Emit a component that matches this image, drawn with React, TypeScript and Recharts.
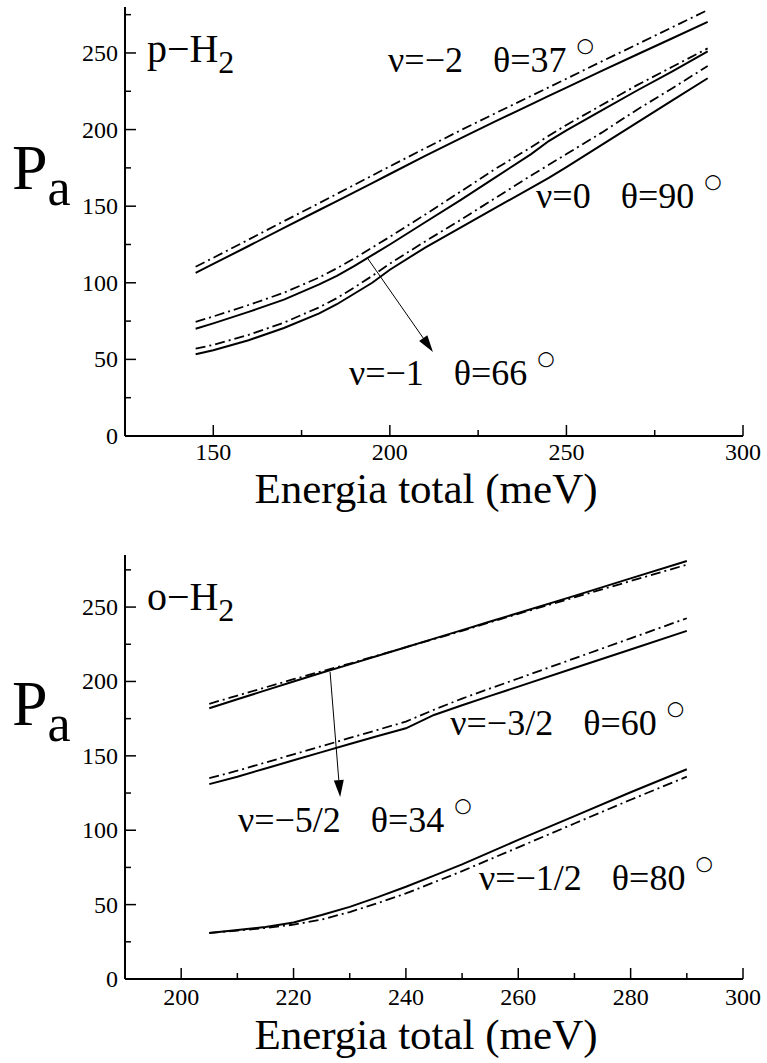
import React from 'react';
import { LineChart, Line, XAxis, YAxis, ReferenceDot, ReferenceLine, Label } from 'recharts';

const FONT = "'Liberation Serif', 'Times New Roman', 'DejaVu Serif', serif";
const TXT = { fontFamily: FONT };

// ---------- Top panel: p-H2 ----------
const pEnergy = [145, 150, 160, 170, 180, 185, 190, 195, 200, 210, 220, 230, 240, 245, 250, 260, 270, 280, 290];
const pNuM2Solid = [106.5, 112.3, 124, 135.8, 147.5, 153.3, 159.2, 165, 171, 182.8, 194.3, 205.5, 216.5, 222, 227.4, 238.3, 249, 259.6, 270.3];
const pNuM2Dash = [110.5, 116.3, 128.2, 140.2, 152, 158, 164, 170, 176, 187.8, 199.5, 210.8, 222, 227.6, 233.2, 244.5, 255.6, 266.8, 278];
const pNuM1Solid = [70, 73.5, 81, 89, 99, 104.5, 111, 118, 125, 139.5, 154, 169, 184, 192.5, 199.5, 212.5, 225.5, 238, 251];
const pNuM1Dash = [74.5, 78, 85.5, 93.5, 103.5, 109.5, 116, 123, 130, 144.5, 159.5, 174.5, 188.5, 196, 203, 216, 229, 241, 253];
const pNu0Solid = [53.3, 56, 62.5, 70.5, 80, 86, 93, 100, 108.5, 123, 136, 149, 162, 168.5, 175.5, 190, 204.5, 219, 233.5];
const pNu0Dash = [57, 59.5, 66, 74, 84, 90, 97, 104.5, 112.5, 127, 141, 155.5, 170, 177, 184, 198, 213, 227, 241.5];
const pXMajor = [150, 200, 250, 300];
const pXMinor = [175, 225, 275];
const pXDomain = [125, 300];
const pYDomain = [0, 280];

// ---------- Bottom panel: o-H2 ----------
const oEnergy = [205, 210, 215, 220, 225, 230, 235, 240, 245, 250, 255, 260, 270, 280, 290];
const oNuM52Solid = [182, 188, 194, 200, 205.8, 211.5, 217.3, 223, 228.8, 234.5, 240.3, 246, 257.5, 269.3, 281];
const oNuM52Dash = [185, 190.5, 196, 201.5, 206.8, 212, 217.5, 223, 228.5, 234, 239.8, 245.5, 256.5, 267.5, 278.5];
const oNuM32Solid = [131, 136, 141.5, 147, 152.5, 158, 163.3, 168.5, 177.5, 184, 190.3, 196.5, 209, 221.5, 234];
const oNuM32Dash = [135, 140, 145.5, 151, 156.5, 162, 167.5, 173, 181, 188.5, 195.3, 202, 215.5, 229, 242.5];
const oNuM12Solid = [31, 33, 35, 38, 43, 48.5, 55, 62, 69.5, 77, 85.3, 93.5, 109.5, 125.5, 141];
const oNuM12Dash = [31, 32.5, 34.3, 36.5, 40, 45, 51, 57.5, 65, 72.5, 80.5, 88.5, 104.5, 120.5, 136];
const oXMajor = [200, 220, 240, 260, 280, 300];
const oXMinor = [210, 230, 250, 270, 290];
const oXDomain = [190, 300];
const oYDomain = [0, 285];

const yMajor = [0, 50, 100, 150, 200, 250];
const yMinor = [25, 75, 125, 175, 225, 275];

const pData = pEnergy.map((e, i) => ({
  e,
  aS: pNuM2Solid[i], aD: pNuM2Dash[i],
  bS: pNuM1Solid[i], bD: pNuM1Dash[i],
  cS: pNu0Solid[i], cD: pNu0Dash[i],
}));
const oData = oEnergy.map((e, i) => ({
  e,
  aS: oNuM52Solid[i], aD: oNuM52Dash[i],
  bS: oNuM32Solid[i], bD: oNuM32Dash[i],
  cS: oNuM12Solid[i], cD: oNuM12Dash[i],
}));

const DASH = '10 4 2 4';

function makeTick(orient: string, majors: number[], showLabel: boolean, labelDy = 24) {
  return (props: any) => {
    const { x, y, payload } = props;
    const v = payload.value;
    const major = majors.includes(v);
    const len = major ? 11 : 6;
    let x2 = x, y2 = y;
    if (orient === 'bottom') y2 = y - len;
    if (orient === 'top') y2 = y + len;
    if (orient === 'left') x2 = x + len;
    if (orient === 'right') x2 = x - len;
    let label = null;
    if (showLabel && major) {
      if (orient === 'bottom') {
        label = (
          <text x={x} y={y + labelDy} textAnchor="middle" fontSize={24} style={TXT} fill="#000">{v}</text>
        );
      } else if (orient === 'left') {
        label = (
          <text x={x - 7} y={y + 8} textAnchor="end" fontSize={24} style={TXT} fill="#000">{v}</text>
        );
      }
    }
    return (
      <g>
        <line x1={x} y1={y} x2={x2} y2={y2} stroke="#000" strokeWidth={1.5} />
        {label}
      </g>
    );
  };
}

function Annot({ cx, cy, nu, theta, size = 36 }: any) {
  return (
    <text x={cx} y={cy} fontSize={size} style={TXT} fill="#000">
      <tspan>{'ν=' + nu}</tspan>
      <tspan dx={30}>{'θ=' + theta}</tspan>
      <tspan dx={10} dy={-20} fontSize={20} style={{ fontFamily: "'DejaVu Sans', sans-serif" }}>○</tspan>
    </text>
  );
}

function Species({ cx, cy, letter }: any) {
  return (
    <text x={cx} y={cy} fontSize={40} style={TXT} fill="#000">
      <tspan>{letter + '−H'}</tspan>
      <tspan dy={11} fontSize={32}>2</tspan>
    </text>
  );
}

function Arrow(props: any) {
  const { x1, y1, x2, y2 } = props;
  const dx = x2 - x1, dy = y2 - y1;
  const L = Math.sqrt(dx * dx + dy * dy) || 1;
  const ux = dx / L, uy = dy / L;
  const hl = 17, hw = 5;
  const bx = x2 - ux * hl, by = y2 - uy * hl;
  const pts = `${x2},${y2} ${bx - uy * hw},${by + ux * hw} ${bx + uy * hw},${by - ux * hw}`;
  return (
    <g>
      <line x1={x1} y1={y1} x2={bx} y2={by} stroke="#000" strokeWidth={1} />
      <polygon points={pts} fill="#000" />
    </g>
  );
}

function Panel({ data, height, marginTop, xDomain, yDomain, xMajor, xMinor, letter, speciesPos, annots, arrow, pDy, titleDy, xLabelDy }: any) {
  const xTicks = [...xMajor, ...xMinor].sort((a: number, b: number) => a - b);
  const yTicks = [...yMajor, ...yMinor].sort((a, b) => a - b);
  const lines = [
    ['aS', false], ['aD', true], ['bS', false], ['bD', true], ['cS', false], ['cD', true],
  ];
  return (
    <LineChart width={767} height={height} data={data} margin={{ top: marginTop, right: 24, bottom: 24, left: 0 }} style={TXT}>
      <XAxis dataKey="e" type="number" domain={xDomain} allowDataOverflow ticks={xTicks} interval={0}
        tickSize={0} tickMargin={0} height={60} axisLine={{ stroke: '#000', strokeWidth: 2 }}
        tick={makeTick('bottom', xMajor, true, xLabelDy)} tickLine={false}>
        <Label content={(p: any) => {
          const vb = p.viewBox;
          return (
            <text x={vb.x + vb.width / 2 - 8} y={vb.y + titleDy} textAnchor="middle" fontSize={43} style={TXT} fill="#000">
              Energia total (meV)
            </text>
          );
        }} />
      </XAxis>
      <XAxis xAxisId="top" orientation="top" dataKey="e" type="number" domain={xDomain} allowDataOverflow ticks={xTicks} interval={0}
        tickSize={0} tickMargin={0} height={0} axisLine={{ stroke: '#000', strokeWidth: 2 }}
        tick={makeTick('top', xMajor, false)} tickLine={false} />
      <YAxis type="number" domain={yDomain} allowDataOverflow ticks={yTicks} interval={0}
        tickSize={0} tickMargin={0} width={125} axisLine={{ stroke: '#000', strokeWidth: 2 }}
        tick={makeTick('left', yMajor, true)} tickLine={false}>
        <Label content={(p: any) => {
          const vb = p.viewBox;
          const cy = vb.y + vb.height / 2 + pDy;
          return (
            <text x={12} y={cy} fontSize={64} style={TXT} fill="#000">
              <tspan>P</tspan>
              <tspan dy={16} fontSize={52}>a</tspan>
            </text>
          );
        }} />
      </YAxis>
      <YAxis yAxisId="right" orientation="right" type="number" domain={yDomain} allowDataOverflow ticks={yTicks} interval={0}
        tickSize={0} tickMargin={0} width={0} axisLine={{ stroke: '#000', strokeWidth: 2 }}
        tick={makeTick('right', yMajor, false)} tickLine={false} />
      {lines.map(([k, dashed]: any) => (
        <Line key={k} dataKey={k} type="linear" stroke="#000" strokeWidth={dashed ? 1.8 : 2}
          strokeDasharray={dashed ? DASH : undefined} dot={false} activeDot={false} isAnimationActive={false} />
      ))}
      <ReferenceDot x={speciesPos[0]} y={speciesPos[1]} r={0} ifOverflow="visible"
        shape={(p: any) => <Species cx={p.cx} cy={p.cy} letter={letter} />} />
      {annots.map((a: any, i: number) => (
        <ReferenceDot key={i} x={a.x} y={a.y} r={0} ifOverflow="visible"
          shape={(p: any) => <Annot cx={p.cx} cy={p.cy} nu={a.nu} theta={a.theta} />} />
      ))}
      <ReferenceLine segment={arrow} ifOverflow="visible" shape={(p: any) => <Arrow {...p} />} />
    </LineChart>
  );
}

const pAnnots = [
  { x: 199.5, y: 237.6, nu: '−2', theta: '37' },
  { x: 241.4, y: 148.8, nu: '0', theta: '90' },
  { x: 188.4, y: 33.3, nu: '−1', theta: '66' },
];
const oAnnots = [
  { x: 247.9, y: 164, nu: '−3/2', theta: '60' },
  { x: 210.1, y: 98.8, nu: '−5/2', theta: '34' },
  { x: 253, y: 59.8, nu: '−1/2', theta: '80' },
];

export default function App() {
  return (
    <div style={{ position: 'absolute', left: 0, top: 0, width: 767, height: 1063, background: '#fff', fontFamily: FONT }}>
      <Panel data={pData} height={520} marginTop={7} xDomain={pXDomain} yDomain={pYDomain}
        xMajor={pXMajor} xMinor={pXMinor} letter="p" speciesPos={[131.2, 244.1]} annots={pAnnots}
        arrow={[{ x: 193.7, y: 116 }, { x: 212.2, y: 54.8 }]} pDy={-33} titleDy={67} xLabelDy={24} />
      <Panel data={oData} height={543} marginTop={35} xDomain={oXDomain} yDomain={oYDomain}
        xMajor={oXMajor} xMinor={oXMinor} letter="o" speciesPos={[193.9, 248]} annots={oAnnots}
        arrow={[{ x: 226.5, y: 206.4 }, { x: 228.3, y: 122.3 }]} pDy={-42} titleDy={70} xLabelDy={26} />
    </div>
  );
}
